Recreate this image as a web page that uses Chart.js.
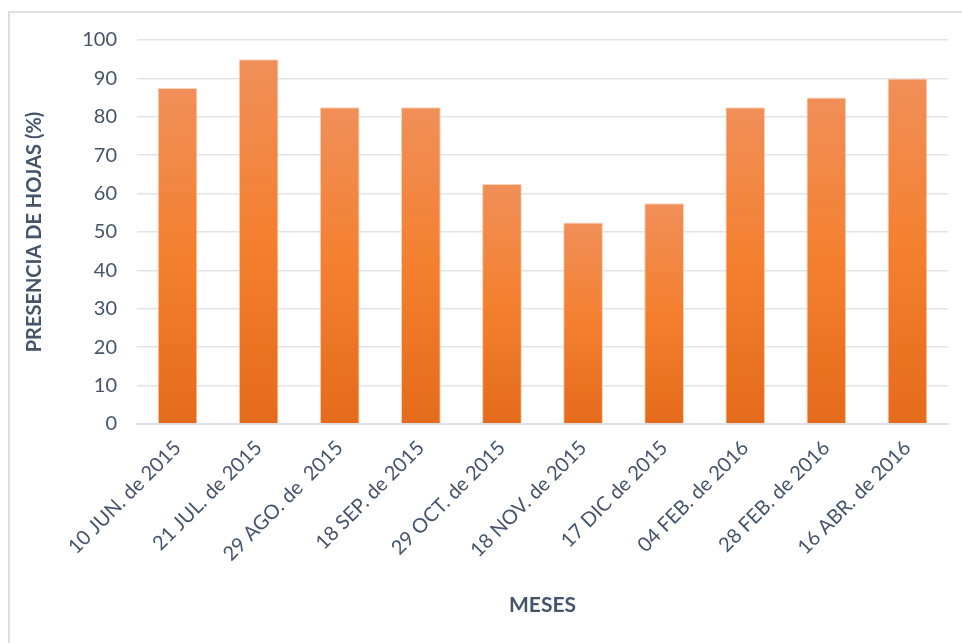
<!DOCTYPE html>
<html>
<head>
<meta charset="utf-8">
<script src="https://cdn.jsdelivr.net/npm/chart.js@4"></script>
<style>
    html, body { margin: 0; padding: 0; background: #ffffff; }
    #marco {
        position: absolute; left: 8px; top: 11px;
        width: 970px; height: 650px;
        border: 2px solid #DCE1E8;
    }
    #caja { position: absolute; left: 0; top: 0; width: 962px; height: 643px; }
</style>
</head>
<body>
<div id="marco"></div>
<div id="caja"><canvas id="chartHojas"></canvas></div>
<script>
const fechas = [
    '10 JUN. de 2015', '21 JUL. de 2015', '29 AGO. de  2015', '18 SEP. de 2015',
    '29 OCT. de 2015', '18 NOV. de 2015', '17 DIC de 2015', '04 FEB. de 2016',
    '28 FEB. de 2016', '16 ABR. de 2016'
];
const presencia = [87.5, 95, 82.5, 82.5, 62.5, 52.5, 57.5, 82.5, 85, 90];
const ticksY = [0, 10, 20, 30, 40, 50, 60, 70, 80, 90, 100];

const colorTexto = '#44546A';

// degradado por barra: claro arriba, oscuro abajo
function degradado(ctx) {
    const chart = ctx.chart;
    const y = chart.scales.y;
    if (!chart.chartArea || !y || ctx.dataIndex === undefined) return '#F3802F';
    const top = y.getPixelForValue(presencia[ctx.dataIndex]);
    const base = y.getPixelForValue(0);
    if (!isFinite(top) || !isFinite(base)) return '#F3802F';
    const g = chart.ctx.createLinearGradient(0, top, 0, base);
    g.addColorStop(0, '#F08F59');
    g.addColorStop(0.5, '#F4802F');
    g.addColorStop(1, '#E46B1B');
    return g;
}

new Chart(document.getElementById('chartHojas'), {
    type: 'bar',
    data: {
        labels: fechas,
        datasets: [{
            data: presencia,
            backgroundColor: degradado,
            borderColor: '#FAD3B8',
            borderWidth: 1,
            categoryPercentage: 1,
            barPercentage: 0.49
        }]
    },
    options: {
        responsive: true,
        maintainAspectRatio: false,
        animation: false,
        layout: { padding: { top: 40, right: 14, left: 0, bottom: 0 } },
        plugins: { legend: { display: false }, tooltip: { enabled: false } },
        scales: {
            x: {
                afterFit: (s) => { s.height = 219; },
                grid: { display: false, drawTicks: false },
                border: { display: true, color: '#DDE2EA', width: 2 },
                ticks: {
                    minRotation: 45, maxRotation: 45, padding: 12,
                    color: colorTexto,
                    font: { family: 'Lato', size: 20 }
                },
                title: {
                    display: true, text: 'MESES', color: colorTexto,
                    font: { family: 'Lato', size: 21, weight: 'bold' },
                    padding: { top: 0, bottom: 25 }
                }
            },
            y: {
                min: 0, max: 100,
                afterFit: (s) => { s.width = 137; },
                afterBuildTicks: (s) => { s.ticks = ticksY.map(v => ({ value: v })); },
                grid: { color: '#DFE3EA', lineWidth: 1.5, drawTicks: false },
                border: { display: false },
                ticks: {
                    padding: 20, color: colorTexto,
                    font: { family: 'Lato', size: 20 }
                },
                title: {
                    display: true, text: 'PRESENCIA DE HOJAS (%)', color: colorTexto,
                    font: { family: 'Lato', size: 20, weight: 'bold' },
                    padding: { top: 23, bottom: 0 }
                }
            }
        }
    }
});
</script>
</body>
</html>
